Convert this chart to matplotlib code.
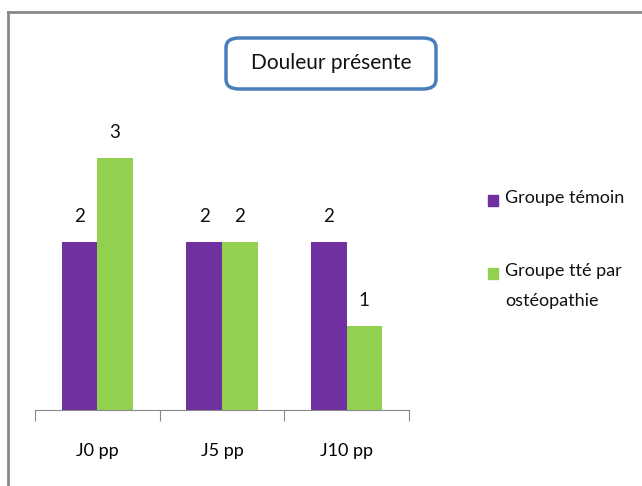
import numpy as np
import matplotlib.pyplot as plt
from matplotlib.lines import Line2D
from matplotlib.patches import FancyBboxPatch, Rectangle

plt.rcParams['font.family'] = ['Lato', 'DejaVu Sans']

# data
categories = ['J0 pp', 'J5 pp', 'J10 pp']
temoin = [2, 2, 2]
osteo = [3, 2, 1]
series_names = ['Groupe témoin', 'Groupe tté par\nostéopathie']

purple = '#7030A0'
green = '#92D050'

W, H = 642, 486
fig = plt.figure(figsize=(W / 100, H / 100), dpi=100)

# axes placed in pixel terms: x 35..409, baseline at y=410
ax = fig.add_axes([35 / W, (H - 410) / H, (409 - 35) / W, 294 / H])
x = np.arange(len(categories))
bw = 0.285
b1 = ax.bar(x - bw / 2, temoin, bw, color=purple)
b2 = ax.bar(x + bw / 2, osteo, bw, color=green)

for bars, vals in ((b1, temoin), (b2, osteo)):
    for r, v in zip(bars, vals):
        ax.annotate(str(v), (r.get_x() + r.get_width() / 2, v),
                    xytext=(0, 18), textcoords='offset points',
                    ha='center', va='center', fontsize=13.5, color='#111111')

ax.set_xlim(-0.5, 2.5)
ax.set_ylim(0, 3.5)
for s in ('top', 'right', 'left'):
    ax.spines[s].set_visible(False)
ax.spines['bottom'].set_color('#888888')
ax.set_yticks([])
ax.set_xticks([-0.5, 0.5, 1.5, 2.5])
ax.set_xticklabels([])
ax.set_xticks(x, minor=True)
ax.set_xticklabels(categories, minor=True, fontsize=13)
ax.tick_params(axis='x', which='major', length=8, color='#888888', direction='out')
ax.tick_params(axis='x', which='minor', length=0, pad=24)

# outer frame (top and left edges)
fig.add_artist(Line2D([8 / W, 1.0], [1 - 12 / H, 1 - 12 / H], color='#888888', lw=2))
fig.add_artist(Line2D([8 / W, 8 / W], [0, 1 - 12 / H], color='#888888', lw=2))

# title box
box = FancyBboxPatch((226 / W, 1 - 89 / H), (436 - 226) / W, (89 - 38) / H,
                     boxstyle='round,pad=0,rounding_size=0.02',
                     transform=fig.transFigure, facecolor='white',
                     edgecolor='#4A7EBB', lw=2.5)
fig.add_artist(box)
fig.text(331 / W, 1 - 63 / H, 'Douleur présente', ha='center', va='center',
         fontsize=15, color='#111111')

# legend
for col, name, yc in ((purple, series_names[0], 200), (green, series_names[1], 273)):
    fig.add_artist(Rectangle((488 / W, 1 - (yc + 6) / H), 10 / W, 11 / H,
                             transform=fig.transFigure, color=col))
    fig.text(505 / W, 1 - (yc - 10) / H, name, ha='left', va='top',
             fontsize=13, color='#111111', linespacing=2.05)

fig.savefig('out.png', dpi=100)
